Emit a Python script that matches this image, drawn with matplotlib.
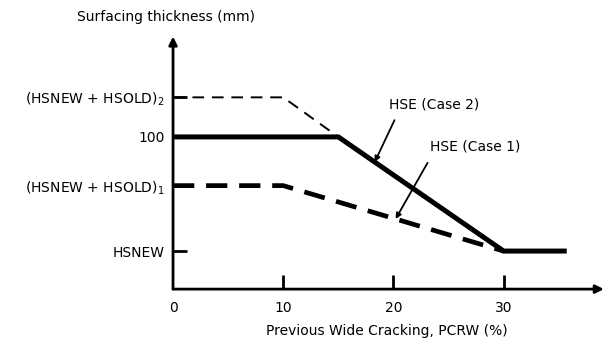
import matplotlib.pyplot as plt

# Surfacing thickness levels (mm) used on the vertical scale
hsnew = 25
hs_sum1 = 68
hs_mid = 100
hs_sum2 = 126

ytick_values = [hsnew, hs_sum1, hs_mid, hs_sum2]
ytick_labels = ['HSNEW', r'(HSNEW + HSOLD)$_1$', '100', r'(HSNEW + HSOLD)$_2$']
xtick_values = [10, 20, 30]
xlabel_values = [0, 10, 20, 30]

# HSE curves vs. previous wide cracking (%)
pcrw_case2 = [0, 15, 30, 35.5]
hse_case2 = [100, 100, 25, 25]

pcrw_case1 = [0, 10, 30]
hse_case1 = [68, 68, 25]

pcrw_upper = [0, 10, 15]
hs_upper = [126, 126, 100]

fig = plt.figure(figsize=(6.05, 3.53), dpi=100)
ax = fig.add_axes([0.286, 0.181, 0.714, 0.720])
ax.set_xlim(0, 39.2)
ax.set_ylim(0, 167)

for s in ax.spines.values():
    s.set_visible(False)

# axes drawn as arrows
ax.annotate('', xy=(39.1, 0), xytext=(0, 0),
            arrowprops=dict(arrowstyle='-|>', lw=2, color='black',
                            mutation_scale=12, shrinkA=0, shrinkB=0),
            annotation_clip=False)
ax.annotate('', xy=(0, 166), xytext=(0, 0),
            arrowprops=dict(arrowstyle='-|>', lw=2, color='black',
                            mutation_scale=12, shrinkA=0, shrinkB=0),
            annotation_clip=False)

ax.plot(pcrw_upper, hs_upper, color='black', lw=1.4, ls=(0, (6, 4)))
ax.plot(pcrw_case2, hse_case2, color='black', lw=3.6, solid_joinstyle='miter')
ax.plot(pcrw_case1, hse_case1, color='black', lw=3.4, ls=(0, (4.5, 2.5)))

ax.set_yticks(ytick_values)
ax.set_yticklabels(ytick_labels)
ax.set_xticks(xtick_values)
ax.tick_params(axis='y', direction='in', length=10, width=2, pad=6, labelsize=10)
ax.tick_params(axis='x', direction='in', length=10, width=2, labelbottom=False)

# x labels including 0 (no tick mark at the origin)
for v in xlabel_values:
    ax.text(v, -8, str(v), ha='center', va='top', fontsize=10)

# leaders for the two HSE curves
ax.text(23.7, 121, 'HSE (Case 2)', ha='center', va='center', fontsize=10)
ax.annotate('', xy=(18.3, 83.5), xytext=(20.1, 111),
            arrowprops=dict(arrowstyle='-|>', lw=1.3, color='black',
                            mutation_scale=8, shrinkA=0, shrinkB=0))
ax.text(27.4, 93.4, 'HSE (Case 1)', ha='center', va='center', fontsize=10)
ax.annotate('', xy=(20.2, 46.1), xytext=(23.1, 83),
            arrowprops=dict(arrowstyle='-|>', lw=1.3, color='black',
                            mutation_scale=8, shrinkA=0, shrinkB=0))

fig.text(166 / 605, 1 - 17 / 353, 'Surfacing thickness (mm)',
         ha='center', va='center', fontsize=10)
fig.text(387 / 605, 1 - 331 / 353, 'Previous Wide Cracking, PCRW (%)',
         ha='center', va='center', fontsize=10)

fig.savefig('out.png', dpi=100)
